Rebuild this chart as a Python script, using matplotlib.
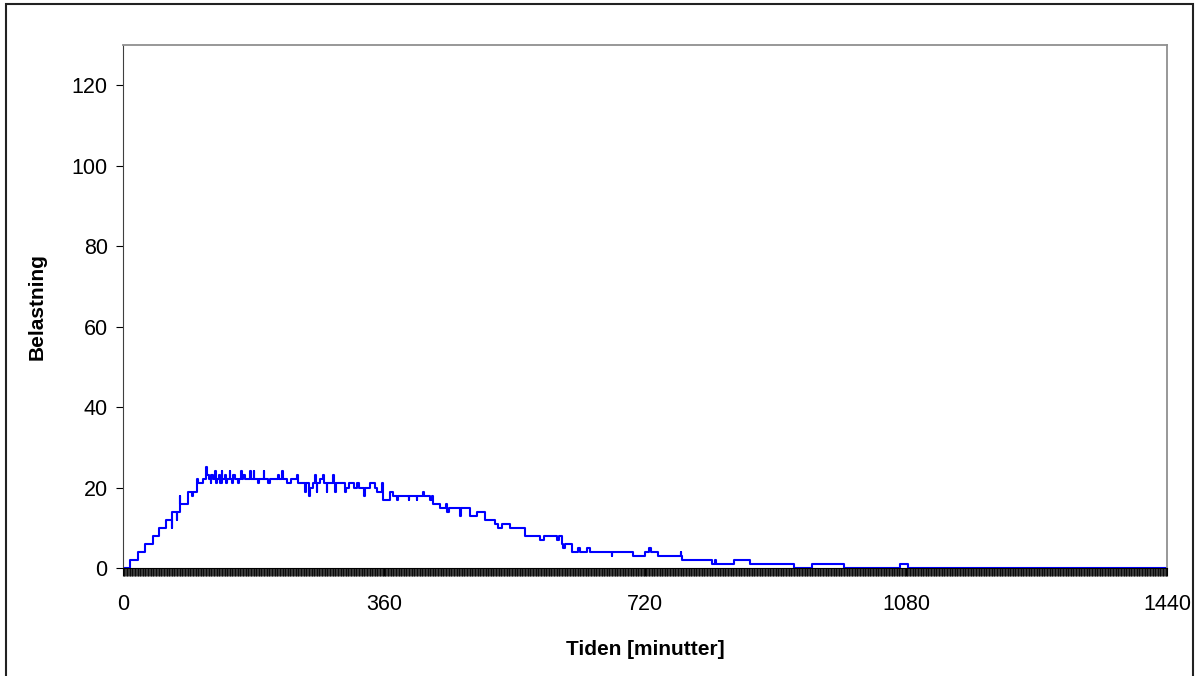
import numpy as np
import matplotlib
matplotlib.use("Agg")
import matplotlib.pyplot as plt
from matplotlib.patches import Rectangle
from matplotlib.ticker import MultipleLocator

plt.rcParams['font.family'] = ['Liberation Sans', 'DejaVu Sans']

# load level (start minute, value)
step_start = [0, 10, 20, 30, 41, 50, 59, 67, 68, 74, 75, 78, 79, 90, 95, 97,
              102, 103, 111, 115, 116, 118, 121, 122, 124, 127, 128, 129, 133,
              134, 136, 137, 141, 142, 144, 147, 148, 151, 152, 155, 158, 160,
              163, 164, 166, 168, 175, 176, 180, 181, 186, 188, 194, 195, 200,
              203, 208, 214, 215, 219, 220, 226, 232, 240, 241, 245, 251, 253,
              257, 258, 262, 265, 266, 267, 268, 272, 276, 277, 281, 282, 286,
              290, 291, 293, 294, 300, 306, 307, 312, 318, 323, 326, 333, 334,
              340, 347, 350, 357, 359, 368, 372, 378, 379, 394, 395, 405, 406,
              414, 415, 424, 426, 428, 437, 446, 447, 449, 451, 465, 466, 479,
              488, 499, 513, 517, 523, 534, 555, 575, 581, 598, 602, 605, 607,
              609, 619, 628, 631, 640, 644, 674, 675, 704, 720, 726, 728, 738,
              769, 770, 771, 813, 817, 818, 843, 865, 925, 950, 995, 1072, 1083]
step_value = [0, 2, 4, 6, 8, 10, 12, 10, 14, 12, 14, 18, 16, 19, 18, 19,
              22, 21, 22, 25, 23, 22, 21, 23, 22, 24, 21, 22, 23,
              21, 24, 22, 23, 21, 22, 24, 22, 21, 23, 22, 21, 22,
              24, 22, 23, 22, 24, 22, 24, 22, 21, 22, 24, 22, 21,
              22, 22, 23, 22, 24, 22, 21, 22, 23, 21, 21, 19, 21,
              18, 20, 21, 23, 21, 19, 21, 22, 23, 21, 19, 21, 21,
              23, 21, 19, 21, 21, 19, 20, 21, 20, 21, 20, 18, 20,
              21, 20, 19, 21, 17, 19, 18, 17, 18, 17, 18, 17, 18,
              19, 18, 17, 18, 16, 15, 16, 14, 15, 15, 13, 15, 13,
              14, 12, 11, 10, 11, 10, 8, 7, 8, 7, 8, 6, 5,
              6, 4, 5, 4, 5, 4, 3, 4, 3, 4, 5, 4, 3,
              4, 3, 2, 1, 2, 1, 2, 1, 0, 1, 0, 1, 0]

xticks = [0, 360, 720, 1080, 1440]
yticks = [0, 20, 40, 60, 80, 100, 120]

fig = plt.figure(figsize=(12, 6.76), dpi=100, facecolor='w')
ax = fig.add_axes([0.1025, 0.1598, 0.87, 0.7736])

xs = step_start + [1440]
ys = step_value + [step_value[-1]]
ax.step(xs, ys, where='post', color='#0000FF', linewidth=1.5)

ax.set_xlim(0, 1440)
ax.set_ylim(0, 130)
ax.set_xticks(xticks)
ax.set_yticks(yticks)
ax.xaxis.set_minor_locator(MultipleLocator(1))
ax.tick_params(axis='x', which='major', direction='out', length=6,
               width=0.8, labelsize=15.5, pad=13, color='black')
ax.tick_params(axis='x', which='minor', direction='out', length=6,
               width=0.55, color='black')
ax.tick_params(axis='y', direction='out', length=5, width=0.8,
               labelsize=15.5, pad=6)

for side in ['top', 'right']:
    ax.spines[side].set_color('#909090')
    ax.spines[side].set_linewidth(1.3)
ax.spines['left'].set_color('#404040')
ax.spines['bottom'].set_color('black')

ax.set_xlabel('Tiden [minutter]', fontsize=15, fontweight='bold', labelpad=18)
ax.set_ylabel('Belastning', fontsize=15, fontweight='bold', labelpad=18)

fig.patches.append(Rectangle((6 / 1200, -0.02), 1187 / 1200, 1.02 - 3.5 / 676,
                             transform=fig.transFigure, fill=False,
                             edgecolor='#222222', linewidth=1.5))

fig.savefig('out.png', dpi=100)
